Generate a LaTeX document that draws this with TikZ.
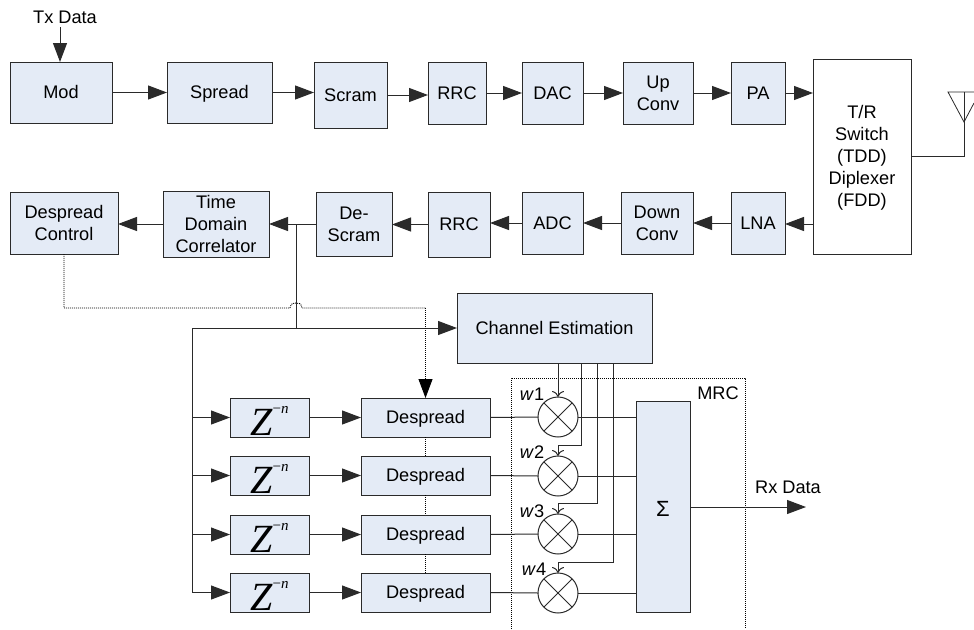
\documentclass[tikz,border=0pt]{standalone}
\usepackage{fontspec}
\setmainfont{Liberation Sans}
\newfontfamily\zfont{Liberation Serif}
\usetikzlibrary{arrows.meta,calc}
\definecolor{boxfill}{HTML}{E4EBF6}
\definecolor{ln}{HTML}{2A2A2A}
\tikzset{
  blk/.style={draw=ln,fill=boxfill,line width=1pt,inner sep=0pt,outer sep=0pt,align=center,font=\fontsize{18.2}{22}\selectfont},
  whiteblk/.style={blk,fill=white},
  wire/.style={draw=ln,line width=1pt},
  arr/.style={wire,-{Triangle[length=19pt,width=14pt]}},
  thin arr/.style={wire,-{To[length=6pt,width=12pt]}},
  ctrl/.style={draw=black,line width=0.9pt,dash pattern=on 1pt off 1pt},
  mult/.style={circle,draw=ln,line width=1pt,minimum size=40pt,inner sep=0pt,outer sep=0pt,fill=white},
  lbl/.style={inner sep=0pt,font=\fontsize{18.2}{22}\selectfont},
}
\newcommand{\st}{\rule[-5pt]{0pt}{22pt}}
\newcommand{\bx}[7][blk]{%
  \pgfmathsetmacro{\cxx}{(#3+#5)/2}\pgfmathsetmacro{\cyy}{(#4+#6)/2}%
  \pgfmathsetmacro{\wdd}{#5-#3}\pgfmathsetmacro{\htt}{#6-#4}%
  \node[#1,minimum width=\wdd pt,minimum height=\htt pt] (#2) at (\cxx,\cyy) {\st #7};}
\newcommand{\zn}{\raisebox{-11.5pt}[0pt][0pt]{\zfont\itshape\fontsize{40}{40}\selectfont Z}\raisebox{10.5pt}[0pt][0pt]{\zfont\fontsize{15}{15}\selectfont −\itshape n}}
\begin{document}
\begin{tikzpicture}[x=1pt,y=-1pt]
\fill[white] (0,0) rectangle (974,629);
\useasboundingbox (0,0) rectangle (974,629);
% MRC frame
\coordinate (mrcA) at (511,629);
\coordinate (mrcB) at (511,378);
\coordinate (mrcC) at (745,378);
\coordinate (mrcD) at (745,629);
\draw[ctrl] (mrcA) -- (mrcB) -- (mrcC) -- (mrcD);
\node[lbl] (mrclabel) at (718,393) {MRC};
% top row
\bx{mod}{10}{62}{112}{123}{Mod}
\bx{spread}{167}{62}{272}{123}{Spread}
\bx{scram}{314}{62}{387}{128}{Scram}
\bx{rrct}{428}{62}{486}{124}{RRC}
\bx{dac}{522}{62}{583}{124}{DAC}
\bx{up}{623}{62}{693}{124}{Up\\\st Conv}
\bx{pa}{731}{62}{785}{124}{PA}
\bx[whiteblk]{sw}{813}{59}{911}{254}{T/R\\\st Switch\\\st (TDD)\\\st Diplexer\\\st (FDD)}
% second row
\bx{dc}{10}{192}{118}{254}{Despread\\\st Control}
\bx{tdc}{163}{192}{269}{256}{Time\\\st Domain\\\st Correlator}
\bx{ds}{316}{192}{392}{256}{De-\\\st Scram}
\bx{rrcb}{428}{192}{490}{257}{RRC}
\bx{adc}{522}{192}{583}{254}{ADC}
\bx{down}{621}{192}{693}{254}{Down\\\st Conv}
\bx{lna}{731}{192}{785}{254}{LNA}
% channel estimation
\bx{ce}{457}{293}{652}{363}{Channel Estimation}
% delay and despread
\bx{za}{230}{398}{309}{437}{\zn}
\bx{zb}{230}{456}{309}{495}{\zn}
\bx{zc}{230}{515}{309}{554}{\zn}
\bx{zd}{230}{573}{309}{612}{\zn}
\bx{da}{361}{398}{490}{437}{Despread}
\bx{db}{361}{456}{490}{495}{Despread}
\bx{dcc}{361}{515}{490}{554}{Despread}
\bx{dd}{361}{573}{490}{612}{Despread}
% sigma
\bx{sig}{636}{401}{690}{612}{\raisebox{-4pt}[0pt][0pt]{\fontsize{22}{22}\selectfont Σ}}
% texts
\node[lbl] (tx) at (65,17) {Tx Data};
\coordinate (txs) at (60,27);
\node[lbl] (rx) at (788,487) {Rx Data};
\coordinate (rxe) at (806,507);
% top-row wires
\draw[arr] (txs) -- (txs |- mod.north);
\draw[arr] (mod.east) -- (mod.east -| spread.west);
\draw[arr] (spread.east) -- (spread.east -| scram.west);
\draw[arr] (scram.east) -- (scram.east -| rrct.west);
\draw[arr] (rrct.east) -- (rrct.east -| dac.west);
\draw[arr] (dac.east) -- (dac.east -| up.west);
\draw[arr] (up.east) -- (up.east -| pa.west);
\draw[arr] (pa.east) -- (pa.east -| sw.west);
% bottom-row wires
\coordinate (swl) at (813,224);
\draw[arr] (swl) -- (swl -| lna.east);
\draw[arr] (lna.west) -- (lna.west -| down.east);
\draw[arr] (down.west) -- (down.west -| adc.east);
\draw[arr] (adc.west) -- (adc.west -| rrcb.east);
\draw[arr] (rrcb.west) -- (rrcb.west -| ds.east);
\draw[arr] (ds.west) -- (ds.west -| tdc.east);
\draw[arr] (tdc.west) -- (tdc.west -| dc.east);
% antenna
\coordinate (ant) at (964,156);
\draw[wire] (sw.east |- ant) -- (ant) -- (964,92);
\draw[wire,line width=0.8pt] (974,92) -- (948,92) -- (964,122) -- (974,103);
% branch
\coordinate (br) at (296,224);
\coordinate (bus) at (296,328);
\coordinate (busl) at (192,328);
\draw[wire] (br) -- (bus);
\draw[arr] (busl) -- (busl -| ce.west);
% dotted control with hop
\coordinate (dcdown) at (dc.south |- 0,308);
\draw[ctrl] (dc.south) -- (dcdown) -- (290,308) .. controls (291,303) and (293,303) .. (296,303) .. controls (299,303) and (301,303) .. (302,308) -- (da.north |- 0,308);
\draw[ctrl,-{Triangle[length=19pt,width=14pt,sep=0pt]}] (da.north |- 0,308) -- (da.north);
\draw[ctrl] (da.south) -- (db.north);
\draw[ctrl] (db.south) -- (dcc.north);
\draw[ctrl] (dcc.south) -- (dd.north);
% delay feed
\draw[wire] (busl) -- (busl |- zd.west);
\draw[arr] (busl |- za.west) -- (za.west);
\draw[arr] (busl |- zb.west) -- (zb.west);
\draw[arr] (busl |- zc.west) -- (zc.west);
\draw[arr] (busl |- zd.west) -- (zd.west);
\draw[arr] (za.east) -- (da.west);
\draw[arr] (zb.east) -- (db.west);
\draw[arr] (zc.east) -- (dcc.west);
\draw[arr] (zd.east) -- (dd.west);
% multipliers
\foreach \nm/\yy in {ma/417,mb/476,mc/534,md/593}{
  \node[mult] (\nm) at (558,\yy) {};
  \draw[wire] (\nm.north west) -- (\nm.south east);
  \draw[wire] (\nm.north east) -- (\nm.south west);
}
\draw[wire] (da.east) -- (ma.west);
\draw[wire] (db.east) -- (mb.west);
\draw[wire] (dcc.east) -- (mc.west);
\draw[wire] (dd.east) -- (md.west);
\draw[wire] (ma.east) -- (ma.east -| sig.west);
\draw[wire] (mb.east) -- (mb.east -| sig.west);
\draw[wire] (mc.east) -- (mc.east -| sig.west);
\draw[wire] (md.east) -- (md.east -| sig.west);
% weights
\draw[thin arr] (ma.north |- ce.south) -- (ma.north);
\draw[thin arr] (581,363) -- (581,445) -- (558,445) -- (mb.north);
\draw[thin arr] (597,363) -- (597,503) -- (558,503) -- (mc.north);
\draw[thin arr] (613,363) -- (613,562) -- (558,562) -- (md.north);
\node[lbl] (w1) at (532,394) {\textit{w}1};
\node[lbl] (w2) at (532,452) {\textit{w}2};
\node[lbl] (w3) at (532,511) {\textit{w}3};
\node[lbl] (w4) at (534,569) {\textit{w}4};
% output
\draw[arr] (sig.east |- rxe) -- (rxe);
\end{tikzpicture}
\end{document}
